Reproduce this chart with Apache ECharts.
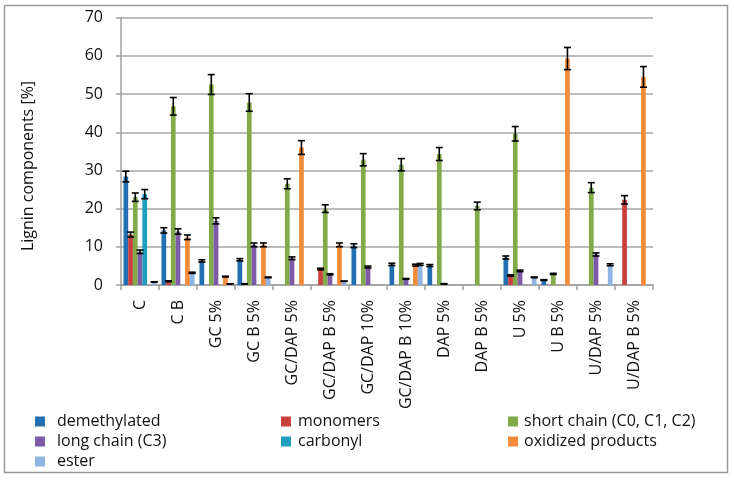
<!DOCTYPE html>
<html>
<head>
<meta charset="utf-8">
<script src="https://cdn.jsdelivr.net/npm/echarts@6/dist/echarts.min.js"></script>
<style>html,body{margin:0;padding:0;background:#fff;}#c{width:734px;height:480px;}</style>
</head>
<body>
<div id="c"></div>
<script>
const categories = ['C','C B','GC 5%','GC B 5%','GC/DAP 5%','GC/DAP B 5%','GC/DAP 10%','GC/DAP B 10%','DAP 5%','DAP B 5%','U 5%','U B 5%','U/DAP 5%','U/DAP B 5%'];
const yTicks = [0,10,20,30,40,50,60,70];

const demethylated = [28.4, 14.3, 6.3, 6.6, 0, 0, 10.3, 5.4, 5.1, 0, 7.2, 1.3, 0, 0];
const monomers     = [13.2, 1.0, 0, 0.3, 0, 4.2, 0, 0, 0, 0, 2.5, 0, 0, 22.3];
const shortChain   = [23.0, 46.8, 52.5, 47.8, 26.5, 20.0, 32.8, 31.5, 34.3, 20.7, 39.6, 2.9, 25.5, 0];
const longChain    = [8.7, 14.0, 16.8, 10.5, 7.0, 2.8, 4.7, 1.6, 0.3, 0, 3.7, 0, 8.0, 0];
const carbonyl     = [23.8, 0, 0, 0, 0, 0, 0, 0, 0, 0, 0, 0, 0, 0];
const oxidized     = [0, 12.5, 2.2, 10.5, 36.0, 10.5, 0, 5.2, 0, 0, 0, 59.3, 0, 54.5];
const ester        = [0.8, 3.2, 0.3, 2.0, 0, 1.0, 0, 5.4, 0, 0, 2.0, 0, 5.3, 0];

const demethylatedErr = [1.4, 0.7, 0.3, 0.3, 0, 0, 0.5, 0.3, 0.25, 0, 0.4, 0.1, 0, 0];
const monomersErr     = [0.65, 0.1, 0, 0.05, 0, 0.2, 0, 0, 0, 0, 0.15, 0, 0, 1.1];
const shortChainErr   = [1.1, 2.3, 2.6, 2.3, 1.3, 1.0, 1.6, 1.6, 1.7, 1.0, 1.9, 0.15, 1.3, 0];
const longChainErr    = [0.45, 0.7, 0.8, 0.5, 0.35, 0.15, 0.25, 0.1, 0.05, 0, 0.2, 0, 0.4, 0];
const carbonylErr     = [1.2, 0, 0, 0, 0, 0, 0, 0, 0, 0, 0, 0, 0, 0];
const oxidizedErr     = [0, 0.6, 0.1, 0.5, 1.8, 0.5, 0, 0.25, 0, 0, 0, 2.9, 0, 2.7];
const esterErr        = [0.05, 0.15, 0.02, 0.1, 0, 0.05, 0, 0.25, 0, 0, 0.1, 0, 0.25, 0];

const seriesNames = ['demethylated','monomers','short chain (C0, C1, C2)','long chain (C3)','carbonyl','oxidized products','ester'];
const seriesValues = [demethylated, monomers, shortChain, longChain, carbonyl, oxidized, ester];
const seriesErrors = [demethylatedErr, monomersErr, shortChainErr, longChainErr, carbonylErr, oxidizedErr, esterErr];
const colors = ['#2270B2','#C8403F','#80AB48','#7D5BA6','#1F9EBF','#F58B3A','#8DB4E2'];

const FONT = '"Open Sans", sans-serif';
const GAP = 0.13;
const N = seriesNames.length;

const series = [];
seriesValues.forEach((vals, i) => {
  series.push({
    name: seriesNames[i], type: 'bar', data: vals, barGap: '0%', barCategoryGap: (GAP*100)+'%',
    itemStyle: {color: colors[i]}, emphasis: {disabled: true}, animation: false
  });
});
seriesValues.forEach((vals, i) => {
  const data = [];
  vals.forEach((v, k) => { if (v > 0) data.push([k, v, seriesErrors[i][k]]); });
  series.push({
    type: 'custom', data: data, encode: {x: 0, y: 1}, z: 5, silent: true, animation: false,
    renderItem: function (params, api) {
      const k = api.value(0), v = api.value(1), e = api.value(2);
      const band = api.size([1, 0])[0];
      const bw = band * (1 - GAP) / N;
      const cx = api.coord([k, v])[0] + (i - (N - 1) / 2) * bw;
      const hi = api.coord([k, v + e])[1];
      const lo = api.coord([k, v - e])[1];
      const cw = 3.5;
      const st = {stroke: '#000', lineWidth: 1.6};
      return {type: 'group', children: [
        {type: 'line', shape: {x1: cx, y1: hi, x2: cx, y2: lo}, style: st},
        {type: 'line', shape: {x1: cx - cw, y1: hi, x2: cx + cw, y2: hi}, style: st},
        {type: 'line', shape: {x1: cx - cw, y1: lo, x2: cx + cw, y2: lo}, style: st}
      ]};
    }
  });
});

function legend(names, left, pad) {
  return {
    data: names.map(n => ({name: n, icon: 'rect'})), orient: 'vertical', left: left, top: 411.5,
    height: 68, width: 220,
    itemWidth: 10, itemHeight: 10, itemGap: 0, selectedMode: false, padding: 0,
    textStyle: {fontFamily: FONT, fontSize: 16, color: '#111', lineHeight: 20, padding: [0, 0, 0, pad]}
  };
}

const chart = echarts.init(document.getElementById('c'), null, {renderer: 'canvas'});
chart.setOption({
  animation: false,
  backgroundColor: '#fff',
  grid: {left: 121, right: 81, top: 17.7, bottom: 195, containLabel: false},
  legend: [
    legend([seriesNames[0], seriesNames[3], seriesNames[6]], 35, 7),
    legend([seriesNames[1], seriesNames[4]], 281, 2),
    legend([seriesNames[2], seriesNames[5]], 508, 1)
  ],
  xAxis: {
    type: 'category', data: categories,
    axisLine: {lineStyle: {color: '#a0a0a0', width: 1.5}},
    axisTick: {show: true, length: 5, interval: 0, lineStyle: {color: '#a0a0a0', width: 1.5}},
    axisLabel: {interval: 0, rotate: 90, margin: 15, fontFamily: FONT, fontSize: 16, color: '#111'}
  },
  yAxis: {
    type: 'value', min: yTicks[0], max: yTicks[yTicks.length - 1], interval: 10,
    axisLine: {show: true, lineStyle: {color: '#a0a0a0', width: 1.5}},
    axisTick: {show: true, length: 5, lineStyle: {color: '#a0a0a0', width: 1.5}},
    splitLine: {lineStyle: {color: '#a6a6a6', width: 1.5}},
    axisLabel: {margin: 18, fontFamily: FONT, fontSize: 16, color: '#111'}
  },
  graphic: [
    {type: 'rect', shape: {x: 4.5, y: 5.5, width: 723, height: 467}, style: {fill: 'none', stroke: '#9a9a9a', lineWidth: 1.5}, silent: true, z: -1},
    {type: 'text', x: 28, y: 166, rotation: Math.PI / 2,
     style: {text: 'Lignin components [%]', fontFamily: FONT, fontSize: 16, fill: '#111', align: 'center', verticalAlign: 'middle'}}
  ],
  series: series
});
</script>
</body>
</html>
